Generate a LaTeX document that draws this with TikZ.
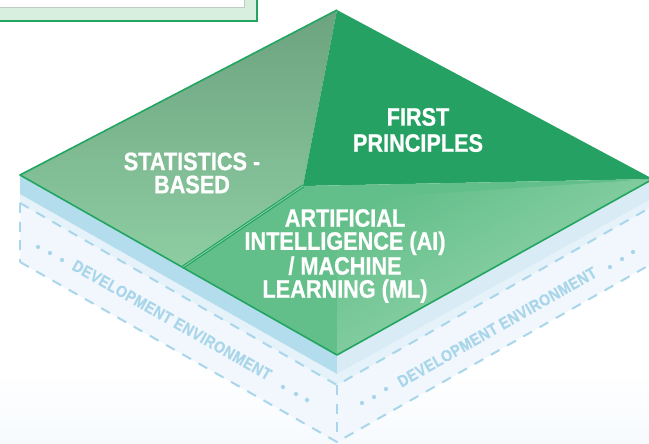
\documentclass[tikz,border=0pt]{standalone}
\usepackage{fontspec}
\setmainfont{Liberation Sans}
\newfontfamily\condfont[FakeStretch=0.86,BoldFeatures={FakeBold=0.8}]{Liberation Sans}
\newfontfamily\envfont[FakeStretch=0.86,LetterSpace=3,BoldFeatures={FakeBold=0.5}]{Liberation Sans}
\definecolor{edgegreen}{HTML}{22A561}
\definecolor{fpgreen}{HTML}{26A164}
\definecolor{aigreen}{HTML}{63BF89}
\definecolor{aisheen}{HTML}{9ED8B4}
\definecolor{stattop}{HTML}{6CA380}
\definecolor{statbottom}{HTML}{8ECDA2}
\definecolor{slableft}{HTML}{B3DCEC}
\definecolor{slabright}{HTML}{D9EBF5}
\definecolor{striptone}{HTML}{E6F2F9}
\definecolor{boxtone}{HTML}{F1F7FC}
\definecolor{envblue}{HTML}{A9D6EA}
\definecolor{cardfill}{HTML}{D8EEDF}
\begin{document}
\begin{tikzpicture}[x=0.75pt,y=-0.75pt,
  facelabel/.style={text=white, align=center, inner sep=0pt, font=\condfont\bfseries\fontsize{18.9}{17.3}\selectfont},
  envlabel/.style={text=envblue, inner sep=0pt, font=\envfont\bfseries\fontsize{12.3}{14}\selectfont},
  envedge/.style={draw=envblue, line width=1.5pt, dash pattern=on 7.5pt off 6.5pt},
  envdot/.style={fill=envblue}]
\useasboundingbox (0,0) rectangle (649,443);
\shade[top color=white, bottom color=boxtone!60] (0,370) rectangle (649,443);

\coordinate (top) at (337,10);
\coordinate (left) at (20,175);
\coordinate (bottom) at (337,355);
\coordinate (right) at (653,179);
\coordinate (split) at (303,186);
\coordinate (cut) at (183,267);
\coordinate (slabL) at (20,194);
\coordinate (slabB) at (337,374);
\coordinate (slabR) at (653,198);
\coordinate (boxL) at (20,203);
\coordinate (boxB) at (337,385);
\coordinate (boxR) at (653,206);
\coordinate (footL) at (20,262);
\coordinate (footB) at (337,442);
\coordinate (footR) at (653,263);

\fill[cardfill] (0,0) rectangle (257,21);
\draw[edgegreen, line width=1.2pt] (0,21) -| (257,0);
\fill[white] (0,0) rectangle (244,7);
\draw[cardfill!70!gray, line width=0.4pt] (0,7) -| (244,0);

\fill[boxtone] (boxL) -- (boxB) -- (footB) -- (footL) -- cycle;
\fill[boxtone] (boxB) -- (boxR) -- (footR) -- (footB) -- cycle;
\fill[striptone] (slabL) -- (slabB) -- (slabR) -- (boxR) -- (boxB) -- (boxL) -- cycle;
\draw[envedge] (boxL) -- (boxB) -- (boxR);
\draw[envedge] (footL) -- (footB) -- (footR);
\draw[envedge] (boxL) -- (footL);
\draw[envedge] (boxB) -- (footB);

\fill[slableft] (left) -- (bottom) -- (slabB) -- (slabL) -- cycle;
\fill[slabright] (bottom) -- (right) -- (slabR) -- (slabB) -- cycle;

\shade[top color=stattop, bottom color=statbottom] (top) -- (left) -- (cut) -- (split) -- cycle;
\fill[fpgreen] (top) -- (split) -- (right) -- cycle;
\fill[aigreen] (split) -- (cut) -- (bottom) -- (right) -- cycle;
\begin{scope}
\clip (split) -- (cut) -- (bottom) -- (right) -- cycle;
\clip (337,200) -- (337,355) -- (653,179) -- cycle;
\shade[top color=aigreen, bottom color=aisheen, shading angle=29] (337,179) rectangle (653,355);
\end{scope}
\draw[edgegreen, line width=2.4pt] (split) -- (cut);
\draw[aigreen!70!white, line width=0.6pt] (split) -- (cut);
\draw[edgegreen, line width=1.2pt, line join=round] (right) -- (bottom) -- (left) -- (top);

\node[facelabel] (stats) at (192,173) {STATISTICS -\\BASED};
\node[facelabel] (first) at (418,130) {FIRST\\[2.3pt]PRINCIPLES};
\node[facelabel] (aiml) at (345,256) {ARTIFICIAL\\INTELLIGENCE (AI)\\/ MACHINE\\LEARNING (ML)};

\node[envlabel, rotate=-29.6] (envleft) at (172,320) {DEVELOPMENT ENVIRONMENT};
\node[envlabel, rotate=29.6] (envright) at (497,327) {DEVELOPMENT ENVIRONMENT};
\foreach \px/\py in {38/247, 50/253, 62/260, 283/387, 296/394, 307/400, 362/403, 374/397, 386/389, 610/267, 622/259, 633/252}
  \fill[envdot] (\px,\py) circle (1.6pt);
\end{tikzpicture}
\end{document}
